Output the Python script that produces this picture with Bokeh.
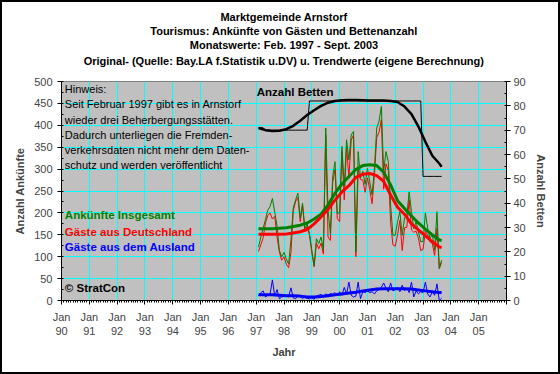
import numpy as np
import pandas as pd
from bokeh.plotting import figure
from bokeh.models import Range1d, LinearAxis, FixedTicker, Title, ColumnDataSource
from bokeh.core.properties import value
from bokeh.embed import file_html
from bokeh.resources import INLINE

# ---------------- data (monthly, Feb 1997 - Sep 2003) ----------------
first_month = "1997-02-01"
n_months = 80

total = [122, 145, 165, 185, 206, 215, 233, 202, 170, 115, 100,
         110, 95, 83, 138, 211, 230, 245, 188, 222, 165, 175, 153,
         115, 80, 141, 130, 145, 115, 394, 206, 153, 283, 317, 199,
         200, 352, 260, 367, 321, 378, 386, 111, 340, 280, 295, 265,
         302, 271, 241, 300, 394, 409, 443, 294, 340, 317, 218, 149,
         149, 180, 203, 149, 188, 195, 248, 203, 164, 180, 157, 134,
         135, 200, 165, 142, 150, 115, 203, 73, 92]

germany = [112, 127, 143, 177, 194, 200, 186, 192, 145, 111, 92,
           100, 83, 75, 109, 205, 226, 235, 180, 217, 158, 170, 149,
           109, 77, 131, 118, 131, 106, 379, 145, 137, 269, 299, 187,
           180, 340, 230, 352, 279, 366, 378, 100, 298, 276, 275, 247,
           280, 253, 221, 285, 372, 384, 413, 254, 312, 297, 178, 127,
           124, 150, 183, 114, 166, 167, 230, 161, 156, 158, 142, 114,
           117, 158, 150, 134, 130, 103, 165, 73, 87]

foreign = [10, 18, 22, 8, 12, 15, 47, 10, 25, 4, 8,
           10, 12, 8, 29, 6, 4, 10, 8, 5, 7, 5, 4,
           6, 3, 10, 12, 14, 9, 15, 12, 16, 14, 18, 12,
           20, 12, 30, 15, 42, 12, 8, 10, 42, 4, 20, 18,
           22, 18, 20, 15, 22, 25, 30, 40, 28, 20, 40, 22,
           25, 30, 20, 35, 22, 28, 18, 42, 8, 22, 15, 20,
           18, 42, 15, 8, 20, 12, 38, 0, 5]

beds = [71, 71, 71, 70, 70, 70, 70, 70, 70, 70, 70,
        70, 70, 70, 70, 70, 70, 70, 70, 70, 70, 70, 82,
        82, 82, 82, 82, 82, 82, 82, 82, 82, 82, 82, 82,
        82, 82, 82, 82, 82, 82, 82, 82, 82, 82, 82, 82,
        82, 82, 82, 82, 82, 82, 82, 82, 82, 82, 82, 82,
        82, 82, 82, 82, 82, 82, 82, 82, 82, 82, 82, 82,
        51, 51, 51, 51, 51, 51, 51, 51, 51]

# trend values (own calculation), read at these months
trend_months = ["1997-02", "1997-05", "1997-08", "1997-11",
                "1998-02", "1998-05", "1998-08", "1998-11",
                "1999-02", "1999-05", "1999-08", "1999-11",
                "2000-02", "2000-05", "2000-08", "2000-11",
                "2001-02", "2001-05", "2001-08", "2001-11",
                "2002-02", "2002-05", "2002-08", "2002-11",
                "2003-02", "2003-05", "2003-08", "2003-09"]
trend_total = [164, 164, 164, 165, 166, 169, 172, 177, 186, 197, 218, 245, 266, 283,
               299, 308, 310, 308, 293, 264, 228, 210, 193, 177, 163, 150, 138, 137]
trend_germany = [151, 151, 151, 151, 152, 154, 157, 162, 175, 191, 208, 229, 248, 262,
                 281, 288, 290, 285, 272, 241, 213, 197, 175, 161, 148, 134, 122, 121]
trend_foreign = [13, 13, 13, 12, 11, 11, 10, 8, 8, 9, 11, 13, 15, 17,
                 19, 22, 24, 26, 27, 27, 27, 27, 26, 24, 22, 20, 18, 18]
trend_beds = [70.9, 70.0, 69.7, 69.8, 70.4, 71.8, 73.9, 76.2, 78.2, 80.0, 81.3, 82.0, 82.3, 82.4,
              82.4, 82.3, 82.2, 82.2, 82.2, 82.0, 81.6, 79.7, 76.6, 71.5, 65.2, 59.5, 56.3, 55.0]

year_ticks = list(range(1990, 2007))
year_labels = ["Jan\n%02d" % (y % 100) for y in range(1990, 2006)] + [""]

titles = ["Marktgemeinde Arnstorf",
          "Tourismus: Ankünfte von Gästen und Bettenanzahl",
          "Monatswerte: Feb. 1997 - Sept. 2003",
          "Original- (Quelle: Bay.LA f.Statistik u.DV) u. Trendwerte (eigene Berechnung)"]
note = ["Hinweis:",
        "Seit Februar 1997 gibt es in Arnstorf",
        "wieder drei Beherbergungsstätten.",
        "Dadurch unterliegen die Fremden-",
        "verkehrsdaten nicht mehr dem Daten-",
        "schutz und werden veröffentlicht"]
legend_texts = ["Ankünfte Insgesamt", "Gäste aus Deutschland", "Gäste aus dem Ausland", "© StratCon"]
legend_colors = ["#008000", "#FF0000", "#0000FF", "#000000"]

# ---------------- x positions ----------------
dates = pd.date_range(first_month, periods=n_months, freq="MS")
xm = dates.year + (dates.month - 1) / 12.0
td = pd.to_datetime([m + "-01" for m in trend_months])
xt = td.year + (td.month - 1) / 12.0

FONT = "Liberation Sans"

p = figure(width=560, height=374, output_backend="svg", toolbar_location=None,
           x_range=Range1d(1990, 2006), y_range=Range1d(0, 500),
           min_border_left=59, min_border_right=56, min_border_top=79, min_border_bottom=76,
           background_fill_color="#C0C0C0", border_fill_color="white")
p.outline_line_color = "#808080"
p.styles = {"border": "2px solid black", "box-sizing": "border-box"}

p.extra_y_ranges = {"betten": Range1d(0, 90)}

# spacer between frame and titles, then titles stacked outward
p.add_layout(Title(text=" ", text_font_size="10px", text_line_height=1.0, standoff=0), "above")
for i, t in enumerate(reversed(titles)):
    p.add_layout(Title(text=t, align="center", text_font=FONT, text_font_style="bold",
                       text_font_size="11px", text_line_height=0.9,
                       standoff=(4 if i == 0 else 0), text_color="black"), "above")

# grids
p.xgrid.grid_line_color = "#00FFFF"
p.ygrid.grid_line_color = "#00FFFF"

# x axis
xa = p.xaxis[0]
xa.ticker = FixedTicker(ticks=year_ticks,
                        minor_ticks=list(np.arange(1990, 2006.001, 1 / 12.0)))
xa.major_label_overrides = {y: l for y, l in zip(year_ticks, year_labels)}
xa.axis_label = "Jahr"
xa.axis_label_text_font = FONT
xa.axis_label_text_font_style = "bold"
xa.axis_label_text_font_size = "11px"
xa.major_label_text_font = FONT
xa.major_label_text_font_size = "11px"
xa.major_label_standoff = 6
xa.axis_label_standoff = 6
xa.major_tick_in = 0
xa.major_tick_out = 4
xa.minor_tick_in = 0
xa.minor_tick_out = 2
xa.axis_line_color = "black"

# left axis
ya = p.yaxis[0]
ya.ticker = FixedTicker(ticks=list(range(0, 501, 50)), minor_ticks=list(range(0, 501, 25)))
ya.axis_label = "Anzahl Ankünfte"
ya.axis_label_text_font = FONT
ya.axis_label_text_font_style = "bold"
ya.axis_label_text_font_size = "11px"
ya.major_label_text_font = FONT
ya.major_label_text_font_size = "11px"
ya.major_label_standoff = 5
ya.axis_label_standoff = 5
ya.major_tick_in = 0
ya.major_tick_out = 4
ya.minor_tick_in = 2
ya.minor_tick_out = 0

# right axis
ra = LinearAxis(y_range_name="betten",
                ticker=FixedTicker(ticks=list(range(0, 91, 10)), minor_ticks=list(range(0, 91, 5))))
ra.axis_label = "Anzahl Betten"
ra.axis_label_text_font = FONT
ra.axis_label_text_font_style = "bold"
ra.axis_label_text_font_size = "11px"
ra.major_label_text_font = FONT
ra.major_label_text_font_size = "11px"
ra.major_label_standoff = 3
ra.axis_label_standoff = 6
ra.major_tick_in = 0
ra.major_tick_out = 4
ra.minor_tick_in = 2
ra.minor_tick_out = 0
p.add_layout(ra, "right")

# raw series
p.line(xm, germany, line_color="#FF0000", line_width=1)
p.line(xm, total, line_color="#008000", line_width=1)
p.line(xm, foreign, line_color="#0000FF", line_width=1)
# trends
p.line(xt, trend_total, line_color="#008000", line_width=3)
p.line(xt, trend_germany, line_color="#FF0000", line_width=3)
p.line(xt, trend_foreign, line_color="#0000FF", line_width=3)
# beds
p.line(xm, beds, line_color="black", line_width=1, y_range_name="betten")
p.line(xt, trend_beds, line_color="black", line_width=2.5, y_range_name="betten")

# note inside plot
note_src = ColumnDataSource(dict(x=[1990.12] * len(note), y=[482 - 34.5 * i for i in range(len(note))], t=note))
p.text(x="x", y="y", text="t", source=note_src, text_font=value(FONT), text_font_size="11px",
       text_baseline="middle", text_align="left", text_color="black")

leg_src = ColumnDataSource(dict(x=[1990.12] * 4, y=[195, 156, 122, 29], t=legend_texts, c=legend_colors))
p.text(x="x", y="y", text="t", text_color="c", source=leg_src, text_font=value(FONT),
       text_font_size="11.5px", text_font_style="bold", text_baseline="middle", text_align="left")

p.text(x=[1997.02], y=[476], text=["Anzahl Betten"], text_font=value(FONT), text_font_size="11.5px",
       text_font_style="bold", text_baseline="middle", text_align="left", text_color="black")

open("out.html", "w").write(file_html(p, INLINE))
